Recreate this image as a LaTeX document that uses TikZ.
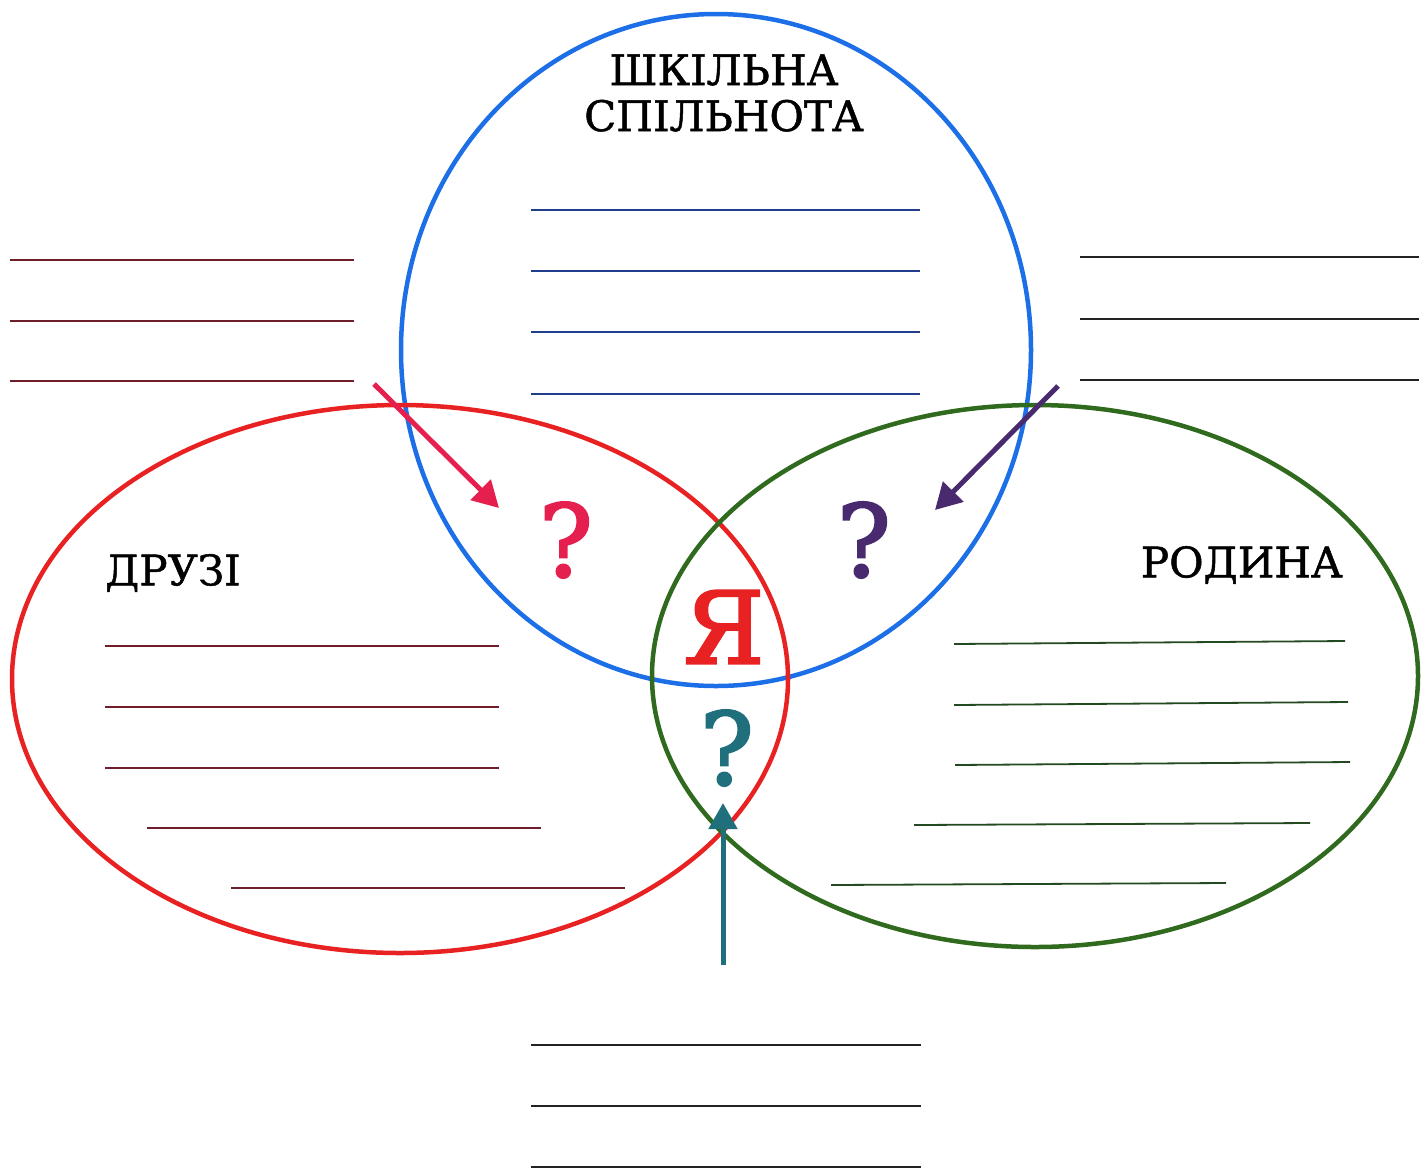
\documentclass[tikz,border=0pt]{standalone}
\usepackage{fontspec}
\setmainfont{DejaVu Serif}
\newfontfamily\heavyserif[FakeBold=1.2]{DejaVu Serif}
\newfontfamily\bigserif[FakeBold=2.5]{DejaVu Serif}
\usetikzlibrary{arrows.meta}
\definecolor{cblue}{HTML}{1C6FE6}
\definecolor{cred}{HTML}{E82222}
\definecolor{cgreen}{HTML}{2F6A1E}
\definecolor{lred}{HTML}{6E1E2A}
\definecolor{lblue}{HTML}{1F3D8A}
\definecolor{lgreen}{HTML}{244A22}
\definecolor{lblack}{HTML}{222222}
\definecolor{qred}{HTML}{E5204F}
\definecolor{qpurple}{HTML}{4A2A6E}
\definecolor{qteal}{HTML}{1F6F7C}
\begin{document}
\begin{tikzpicture}[x=1pt,y=-1pt,
  ring/.style={line width=4.5pt},
  wline/.style={line width=1.8pt},
  title/.style={font=\heavyserif\fontsize{42}{46}\selectfont, align=center, inner sep=0pt},
  qmark/.style={font=\bigserif\fontsize{100}{100}\selectfont, inner sep=0pt},
  arr/.style={line width=5pt, -{Triangle[length=26pt,width=28pt]}}]
\useasboundingbox (0,0) rectangle (1421,1171);
% circles
\draw[ring, cblue] (716,350) ellipse [x radius=315, y radius=336];
\draw[ring, cred] (400,679) ellipse [x radius=388, y radius=274];
\draw[ring, cgreen] (1035,676) ellipse [x radius=383, y radius=271];
% titles
\node[title] (school) at (724,93) {ШКІЛЬНА\\СПІЛЬНОТА};
\node[title, anchor=west] (friends) at (105,573) {ДРУЗІ};
\node[title, anchor=east] (family) at (1343,565) {РОДИНА};
% writing lines
\foreach \y in {260,321,381} \draw[wline, lred] (10,\y) -- (354,\y);
\foreach \y in {257,319,380} \draw[wline, lblack] (1080,\y) -- (1419,\y);
\foreach \y in {210,271,332,394} \draw[wline, lblue] (531,\y) -- (920,\y);
\draw[wline, lred] (105,646) -- (499,646);
\draw[wline, lred] (105,707) -- (499,707);
\draw[wline, lred] (105,768) -- (499,768);
\draw[wline, lred] (147,828) -- (541,828);
\draw[wline, lred] (231,888) -- (625,888);
\draw[wline, lgreen] (954,644) -- (1345,641);
\draw[wline, lgreen] (954,705) -- (1348,702);
\draw[wline, lgreen] (955,765) -- (1350,762);
\draw[wline, lgreen] (914,825) -- (1310,823);
\draw[wline, lgreen] (831,885) -- (1226,883);
\foreach \y in {1045,1106,1167} \draw[wline, lblack] (531,\y) -- (921,\y);
% centre
\node[qmark, text=cred] (me) at (724,627) {Я};
\node[qmark, text=qred] (q1) at (566,540) {?};
\node[qmark, text=qpurple] (q2) at (864,540) {?};
\node[qmark, text=qteal] (q3) at (727,748) {?};
% arrows
\coordinate (a1s) at (374,384);
\coordinate (a1e) at (499,508);
\coordinate (a2s) at (1058,386);
\coordinate (a2e) at (935,510);
\coordinate (a3s) at (723,965);
\coordinate (a3e) at (723,803);
\draw[arr, qred] (a1s) -- (a1e);
\draw[arr, qpurple] (a2s) -- (a2e);
\draw[arr, qteal] (a3s) -- (a3e);
\end{tikzpicture}
\end{document}
